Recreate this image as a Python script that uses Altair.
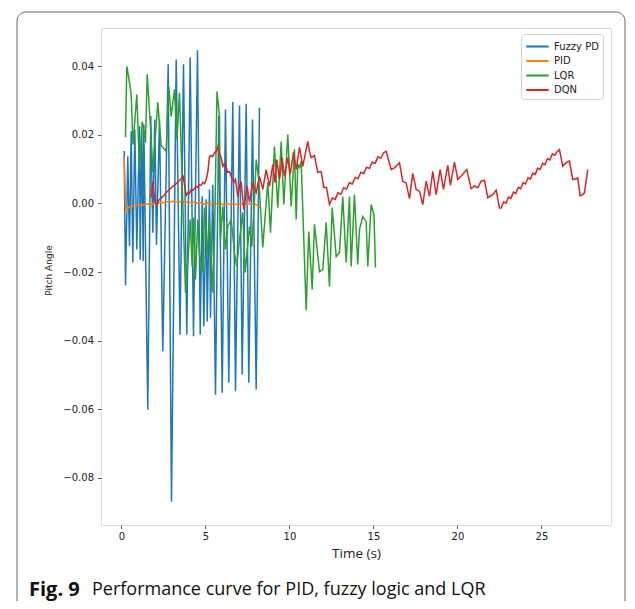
import altair as alt
import pandas as pd

series_names = ["Fuzzy PD", "PID", "LQR", "DQN"]
series_colors = ["#1f77b4", "#ff7f0e", "#2ca02c", "#d62728"]

fuzzy_t = [0.16, 0.24, 0.375, 0.476, 0.577, 0.673, 0.792, 0.911, 1.071, 1.113, 1.208, 1.292, 1.327,
           1.565, 1.744, 1.863, 1.982, 2.083, 2.262, 2.458, 2.78, 2.976, 3.256, 3.482, 3.69, 3.887,
           4.089, 4.286, 4.524, 4.685, 4.804, 4.899, 5.042, 5.101, 5.238, 5.298, 5.435, 5.595, 5.792,
           5.994, 6.19, 6.387, 6.625, 6.786, 7.024, 7.185, 7.423, 7.577, 7.798, 8.018, 8.214]
fuzzy_v = [0.0153, -0.0239, 0.0138, -0.0125, 0.0211, -0.0172, 0.0216, -0.0134, 0.0226, -0.0164,
           0.0222, -0.0168, 0.0231, -0.0602, 0.0255, -0.0085, 0.0245, -0.0120, 0.0245, -0.0431,
           0.0406, -0.0870, 0.0420, -0.0383, 0.0406, -0.0383, 0.0426, -0.0387, 0.0447, -0.0383,
           0.0021, -0.0358, 0.0012, -0.0344, 0.0041, -0.0333, 0.0055, -0.0558, 0.0255, -0.0552,
           0.0274, -0.0523, 0.0296, -0.0548, 0.0286, -0.0499, 0.0291, -0.0523, 0.0245, -0.0543, 0.0279]

pid_t = [0.15, 0.27, 0.40, 0.60, 0.80, 1.00, 1.20, 1.40, 1.60, 1.75, 1.90, 2.10, 2.30, 2.50, 2.70,
         2.90, 3.10, 3.30, 3.50, 3.70, 3.90, 4.10, 4.30, 4.50, 4.70, 4.90, 5.10, 5.30, 5.50, 5.70,
         5.90, 6.10, 6.30, 6.50, 6.70, 6.90, 7.10, 7.30, 7.50, 7.70, 7.90, 8.10, 8.25]
pid_v = [0.0137, -0.0027, -0.0012, -0.0008, -0.0006, -0.0004, -0.0005, -0.0003, -0.0001, -0.0006,
         0.0001, 0.0000, 0.0003, 0.0002, 0.0006, 0.0004, 0.0007, 0.0005, 0.0006, 0.0004, 0.0005,
         0.0002, 0.0004, 0.0001, 0.0003, -0.0002, 0.0002, -0.0003, 0.0001, -0.0002, 0.0000, -0.0004,
         -0.0001, -0.0003, 0.0000, -0.0004, -0.0001, -0.0003, 0.0000, -0.0002, -0.0001, -0.0006, -0.0012]

lqr_t = [0.238, 0.315, 0.446, 0.577, 0.685, 0.911, 1.071, 1.232, 1.31, 1.429, 1.53, 1.756, 1.863,
         2.161, 2.363, 2.661, 2.815, 2.958, 3.155, 3.304, 3.452, 3.81, 3.988, 4.089, 4.208, 4.304,
         4.405, 4.542, 4.643, 4.839, 4.94, 5.089, 5.238, 5.435, 5.536, 5.685, 5.833, 5.893, 6.03,
         6.19, 6.327, 6.53, 6.726, 6.863, 7.024, 7.22, 7.363, 7.619, 7.756, 7.917, 8.018, 8.173,
         8.411, 8.613, 8.708, 8.869, 9.107, 9.304, 9.506, 9.661, 9.899, 10.101, 10.298, 10.399,
         10.494, 10.595, 10.696, 10.994, 11.149, 11.351, 11.488, 11.786, 11.982, 12.185, 12.381,
         12.542, 12.78, 12.976, 13.173, 13.375, 13.571, 13.673, 13.869, 14.065, 14.167, 14.363,
         14.565, 14.661, 14.863, 15.03, 15.119]
lqr_v = [0.0193, 0.0400, 0.0362, 0.0318, 0.0172, 0.0318, 0.0099, 0.0239, 0.0222, 0.0178, 0.0377,
         0.0199, 0.0091, 0.0295, 0.0169, 0.0152, 0.0342, 0.0254, 0.0333, 0.0187, 0.0324, -0.0260,
         -0.0143, -0.0047, -0.0184, -0.0041, -0.0222, -0.0047, -0.0149, -0.0201, -0.0012, -0.0149,
         -0.0047, -0.0260, -0.0105, 0.0327, 0.0254, -0.0105, -0.0009, -0.0134, -0.0067, -0.0047,
         -0.0143, -0.0184, -0.0105, -0.0026, -0.0201, -0.0067, -0.0126, 0.0012, 0.0128, 0.0070,
         -0.0128, 0.0003, 0.0061, -0.0085, 0.0166, -0.0012, 0.0181, -0.0003, 0.0201, -0.0009,
         0.0158, -0.0047, 0.0114, 0.0105, 0.0123, -0.0312, -0.0082, -0.0251, -0.0061, -0.0199,
         -0.0193, -0.0055, -0.0242, -0.0012, -0.0155, -0.0143, 0.0020, -0.0172, 0.0020, -0.0184,
         0.0026, -0.0178, -0.0076, -0.0038, -0.0053, -0.0184, -0.0003, -0.0032, -0.0187]

dqn_t = [1.756, 1.863, 1.994, 2.083, 2.262, 2.458, 2.661, 2.857, 3.054, 3.256, 3.452, 3.673, 3.851,
         3.958, 4.048, 4.149, 4.244, 4.345, 4.446, 4.542, 4.643, 4.744, 4.839, 4.94, 5.042, 5.137,
         5.238, 5.339, 5.435, 5.536, 5.637, 5.732, 5.833, 5.935, 6.03, 6.131, 6.232, 6.327, 6.429,
         6.53, 6.685, 6.786, 6.923, 7.054, 7.125, 7.28, 7.482, 7.619, 7.815, 8.018, 8.214, 8.411,
         8.613, 8.81, 9.006, 9.137, 9.244, 9.405, 9.565, 9.702, 9.899, 10.042, 10.238, 10.399,
         10.595, 10.792, 10.994, 11.089, 11.19, 11.292, 11.387, 11.488, 11.589, 11.685, 11.887,
         12.042, 12.202, 12.381, 12.55, 12.72, 12.89, 13.06, 13.23, 13.40, 13.57, 13.74, 13.91,
         14.08, 14.25, 14.42, 14.59, 14.76, 14.93, 15.10, 15.27, 15.44, 15.60, 15.76, 16.054, 16.25,
         16.548, 16.744, 16.946, 17.143, 17.339, 17.542, 17.738, 17.935, 18.137, 18.333, 18.53,
         18.732, 18.97, 19.167, 19.423, 19.583, 19.821, 20.018, 20.22, 20.554, 20.815, 21.012,
         21.208, 21.411, 21.607, 21.804, 22.101, 22.304, 22.5, 22.601, 22.75, 22.89, 23.04, 23.18,
         23.33, 23.47, 23.62, 23.76, 23.91, 24.05, 24.20, 24.34, 24.49, 24.63, 24.78, 24.92, 25.07,
         25.21, 25.36, 25.50, 25.65, 25.79, 25.94, 26.07, 26.268, 26.47, 26.667, 26.863, 27.065,
         27.16, 27.30, 27.458, 27.56, 27.756]
dqn_v = [0.0018, 0.0064, 0.0003, -0.0003, 0.0012, 0.0020, 0.0032, 0.0041, 0.0050, 0.0058, 0.0067,
         0.0079, 0.0023, 0.0032, 0.0029, 0.0041, 0.0038, 0.0044, 0.0050, 0.0047, 0.0055, 0.0053,
         0.0061, 0.0058, 0.0070, 0.0091, 0.0137, 0.0140, 0.0137, 0.0149, 0.0152, 0.0166, 0.0146,
         0.0134, 0.0108, 0.0117, 0.0105, 0.0091, 0.0093, 0.0079, 0.0061, 0.0070, 0.0020, 0.0055,
         0.0064, -0.0018, 0.0050, 0.0003, 0.0061, 0.0032, 0.0079, 0.0041, 0.0099, 0.0050, 0.0114,
         0.0061, 0.0128, 0.0070, 0.0134, 0.0079, 0.0134, 0.0085, 0.0149, 0.0099, 0.0164, 0.0108,
         0.0158, 0.0181, 0.0152, 0.0134, 0.0137, 0.0140, 0.0114, 0.0091, 0.0093, 0.0047, 0.0047,
         -0.0003, 0.0016, 0.0012, 0.0031, 0.0027, 0.0046, 0.0042, 0.0061, 0.0057, 0.0076, 0.0072,
         0.0091, 0.0087, 0.0106, 0.0102, 0.0121, 0.0117, 0.0136, 0.0132, 0.0148, 0.0152, 0.0099,
         0.0104, 0.0119, 0.0065, 0.0060, 0.0014, 0.0088, 0.0041, 0.0036, -0.0003, 0.0065, 0.0021,
         0.0094, 0.0026, 0.0099, 0.0041, 0.0111, 0.0053, 0.0121, 0.0070, 0.0080, 0.0099, 0.0043,
         0.0051, 0.0046, 0.0065, 0.0068, 0.0017, 0.0026, 0.0039, -0.0013, -0.0013, 0.0005, 0.0001,
         0.0019, 0.0015, 0.0033, 0.0029, 0.0047, 0.0043, 0.0061, 0.0057, 0.0075, 0.0071, 0.0089,
         0.0085, 0.0103, 0.0099, 0.0117, 0.0113, 0.0131, 0.0127, 0.0145, 0.0141, 0.0152, 0.0157,
         0.0109, 0.0119, 0.0124, 0.0070, 0.0072, 0.0075, 0.0023, 0.0026, 0.0031, 0.0099]

x_ticks = [0, 5, 10, 15, 20, 25]
y_ticks = [-0.08, -0.06, -0.04, -0.02, 0.00, 0.02, 0.04]

caption_bold = "Fig. 9"
caption_text = "Performance curve for PID, fuzzy logic and LQR"

rows = []
for name, ts, vs in [("Fuzzy PD", fuzzy_t, fuzzy_v), ("PID", pid_t, pid_v),
                     ("LQR", lqr_t, lqr_v), ("DQN", dqn_t, dqn_v)]:
    assert len(ts) == len(vs), name
    for i, (t, v) in enumerate(zip(ts, vs)):
        rows.append({"series": name, "t": t, "v": v, "i": i})
df = pd.DataFrame(rows)

FONT = "DejaVu Sans"

x_enc = alt.X("t:Q", scale=alt.Scale(domain=[-1.22, 29.14], nice=False, zero=False),
              axis=alt.Axis(values=x_ticks, format="d", title="Time (s)", grid=False, domain=False,
                            tickColor="#333333", tickSize=3.5, tickWidth=0.8, labelPadding=3,
                            labelFont=FONT, labelFontSize=10, labelColor="#222222",
                            titleFont="Open Sans", titleFontSize=13.5, titleFontWeight="normal",
                            titleColor="#222222", titlePadding=5))
y_enc = alt.Y("v:Q", scale=alt.Scale(domain=[-0.0938, 0.0512], nice=False, zero=False),
              axis=alt.Axis(values=y_ticks, format=".2f", title="Pitch Angle", grid=False, domain=False,
                            tickColor="#333333", tickSize=3.5, tickWidth=0.8, labelPadding=4,
                            labelFont=FONT, labelFontSize=10, labelColor="#222222",
                            titleFont=FONT, titleFontSize=9, titleFontWeight="normal",
                            titleColor="#222222", titleX=-53, titleY=242, titleBaseline="middle",
                            titleAlign="center", titleAngle=270))
color_enc = alt.Color("series:N",
                      scale=alt.Scale(domain=series_names, range=series_colors),
                      legend=alt.Legend(title=None, orient="none", legendX=420, legendY=6,
                                        symbolType="M-1.5,0H1.5", symbolStrokeWidth=2, symbolSize=225,
                                        symbolOffset=4,
                                        labelFont=FONT, labelFontSize=10, labelColor="#222222",
                                        strokeColor="#d0d0d0", fillColor="white", padding=4,
                                        cornerRadius=3, rowPadding=0.5, labelOffset=8))

base = alt.Chart(df)
layers = []
for name in series_names:
    layers.append(
        base.transform_filter(alt.datum.series == name)
        .mark_line(strokeWidth=1.5)
        .encode(x=x_enc, y=y_enc, color=color_enc, order="i:Q")
    )

frame = alt.Chart(pd.DataFrame({"a": [0]})).mark_rect(
    fill="white", fillOpacity=0, stroke="#666666", strokeWidth=1, cornerRadius=9
).encode(x=alt.value(-84), x2=alt.value(524), y=alt.value(-16), y2=alt.value(640))

cap1 = alt.Chart(pd.DataFrame({"s": [caption_bold]})).mark_text(
    align="left", baseline="middle", font="Open Sans", fontSize=20, fontWeight="bold", color="#111111"
).encode(text="s:N", x=alt.value(-72), y=alt.value(562))
cap2 = alt.Chart(pd.DataFrame({"s": [caption_text]})).mark_text(
    align="left", baseline="middle", font="Open Sans", fontSize=18, color="#111111"
).encode(text="s:N", x=alt.value(-9), y=alt.value(562))

chart = alt.layer(frame, *layers, cap1, cap2).properties(
    width=510, height=497,
    autosize=alt.AutoSizeParams(type="none"),
    padding={"left": 93, "top": 20, "right": 16, "bottom": 76},
).configure_view(stroke="#333333", strokeWidth=1).configure(background="white")

chart.save("out.html", embed_options={"renderer": "svg", "actions": False})
